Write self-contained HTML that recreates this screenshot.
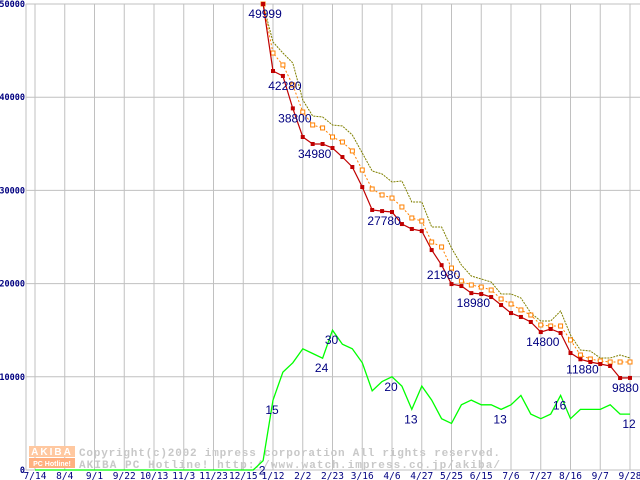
<!DOCTYPE html>
<html><head><meta charset="utf-8"><style>
html,body{margin:0;padding:0;background:#fff;}
svg{display:block;}
</style></head><body>
<svg id="chart" width="640" height="480" xmlns="http://www.w3.org/2000/svg" font-family="'Liberation Sans', sans-serif">
<g id="grid"></g>
<g id="wm">
  <rect x="29" y="446" width="46" height="11" fill="#ffc8a0"/>
  <rect x="29" y="458" width="46" height="10" fill="#ffb080"/>
  <text x="52" y="455" font-size="10" font-weight="bold" fill="#fff" text-anchor="middle" letter-spacing="2">AKIBA</text>
  <text x="52" y="466" font-size="7" font-weight="bold" fill="#fff" text-anchor="middle">PC Hotline!</text>
  <text x="79" y="456" font-size="11" font-weight="bold" fill="#c8c8c8" font-family="'Liberation Mono', monospace" textLength="421" lengthAdjust="spacing">Copyright(c)2002 impress corporation All rights reserved.</text>
  <text x="79" y="468" font-size="11" font-weight="bold" fill="#c8c8c8" font-family="'Liberation Mono', monospace" textLength="421" lengthAdjust="spacing">AKIBA PC Hotline! http://www.watch.impress.co.jp/akiba/</text>
</g>
<g id="series"></g>
<g id="labels"></g>
</svg>
<script>
const xTicks=["7/14","8/4","9/1","9/22","10/13","11/3","11/23","12/15","1/12","2/2","2/23","3/16","4/6","4/27","5/25","6/15","7/6","7/27","8/16","9/7","9/28"];
const yTicks=[0,10000,20000,30000,40000,50000];
const priceStart=23;
const lowPrice=[49999,42810,42280,38800,35730,34980,34980,34550,33580,32510,30360,27900,27780,27680,26390,25860,25640,23600,21980,19950,19740,18980,18880,18560,17700,16840,16420,15880,14800,15130,14700,12550,11880,11590,11370,11160,9870,9880];
const avgPrice=[50000,44740,43460,41310,38410,37020,36700,35730,35190,34230,32190,30150,29510,29180,28220,27040,26710,24460,23930,21670,20280,19850,19630,19310,18350,17810,17170,16630,15560,15450,15450,13950,12340,11910,11700,11590,11590,11590];
const highPrice=[49999,45920,44740,43670,39700,37980,37880,37020,36910,35950,34010,32080,31760,30900,31010,28760,28760,26070,26070,23820,22000,20820,20490,20170,18880,18880,18460,16850,15990,15990,17060,14490,12880,12770,12020,12020,12340,12020];
const shopCount=[0,0,0,0,0,0,0,0,0,0,0,0,0,0,0,0,0,0,0,0,0,0,0,2,15,21,23,26,25,24,30,27,26,23,17,19,20,18,13,18,15,11,10,14,15,14,14,13,14,16,12,11,12,16,11,13,13,13,14,12,12];
const priceLabelIdx=[0,2,3,5,12,18,21,28,32,37];
const countLabelIdx=[23,24,29,30,36,38,47,53,60];

const NS="http://www.w3.org/2000/svg";
const X0=35, XW=29.75/3, Y0=470, YH=466;
function xw(i){return X0+i*XW;}
function yv(v){return Y0-v/50000*YH;}
function yc(c){return Y0-c/100*YH;}
function mk(tag,attrs,parent){const e=document.createElementNS(NS,tag);for(const k in attrs)e.setAttribute(k,attrs[k]);parent.appendChild(e);return e;}
const grid=document.getElementById('grid'), ser=document.getElementById('series'), lab=document.getElementById('labels');

yTicks.forEach(t=>{
  const l=mk('line',{x1:26,x2:640,y1:yv(t),y2:yv(t),stroke:'#c0c0c0','stroke-width':1},grid);
  
  
  const tx=mk('text',{x:25,y:yv(t)+3,'font-size':8.5,'font-weight':'bold',fill:'#000080','text-anchor':'end','font-family':"'DejaVu Sans Mono', monospace"},grid);
  tx.textContent=String(t);
  
  
});
const ax=mk('line',{x1:26,x2:26,y1:4,y2:470,stroke:'#c0c0c0','stroke-width':1},grid);


xTicks.forEach((t,k)=>{
  const x=xw(k*3);
  const l=mk('line',{x1:x,x2:x,y1:4,y2:470,stroke:'#c0c0c0','stroke-width':1},grid);
  
  
  const tx=mk('text',{x:x,y:479,'font-size':9.5,fill:'#000080','text-anchor':'middle','font-family':"'DejaVu Sans Mono', monospace"},grid);
  tx.textContent=t;
  
  
});

function pts(arr,start,fy){return arr.map((v,i)=>xw(start+i).toFixed(1)+','+fy(v).toFixed(1)).join(' ');}
const g=mk('polyline',{points:pts(shopCount,0,yc),fill:'none',stroke:'#00ff00','stroke-width':1.3},ser);


const hi=mk('polyline',{points:pts(highPrice,priceStart,yv),fill:'none',stroke:'#808000','stroke-width':1,'stroke-dasharray':'2,1'},ser);


const av=mk('polyline',{points:pts(avgPrice,priceStart,yv),fill:'none',stroke:'#ff8000','stroke-width':1,'stroke-dasharray':'2,2'},ser);


avgPrice.forEach((v,i)=>{
  const r=mk('rect',{x:xw(priceStart+i)-2,y:yv(v)-2,width:4,height:4,fill:'#fff',stroke:'#ff8000','stroke-width':1},ser);
  
  
});
const lo=mk('polyline',{points:pts(lowPrice,priceStart,yv),fill:'none',stroke:'#c00000','stroke-width':1.2},ser);


lowPrice.forEach((v,i)=>{
  const r=mk('rect',{x:xw(priceStart+i)-2,y:yv(v)-2,width:4,height:4,fill:'#c00000'},ser);
  
  
});
priceLabelIdx.forEach(i=>{
  const v=lowPrice[i];
  const s=String(v);
  const half=s.length*3.4;
  const cx=Math.min(xw(priceStart+i)+2,639-half);
  const tx=mk('text',{x:cx,y:yv(v)+14,'font-size':12,fill:'#000080','text-anchor':'middle'},lab);
  tx.textContent=s;
  
  
});
countLabelIdx.forEach(i=>{
  const c=shopCount[i];
  const tx=mk('text',{x:xw(i)-1,y:yc(c)+14,'font-size':12,fill:'#000080','text-anchor':'middle'},lab);
  tx.textContent=String(c);
  
  
});
</script>
</body></html>
